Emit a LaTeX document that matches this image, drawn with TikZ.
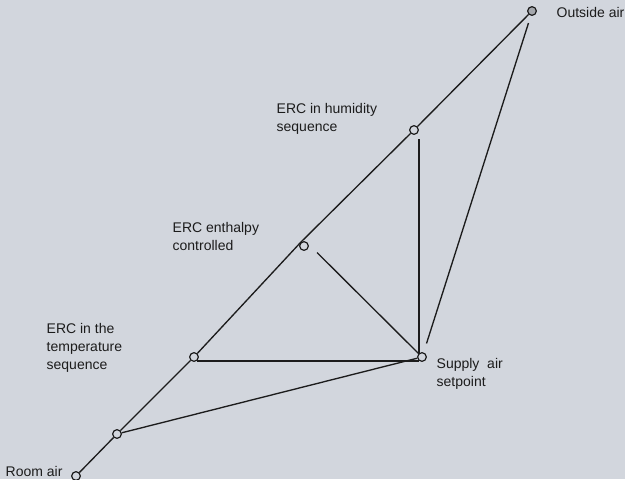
\documentclass[tikz,border=0pt]{standalone}
\usepackage{fontspec}
\setmainfont{Liberation Sans}

\definecolor{bg}{RGB}{210,214,221}
\definecolor{ink}{RGB}{28,28,28}

\begin{document}
\begin{tikzpicture}[x=0.75pt,y=-0.75pt,line width=1pt,color=ink,
                point node/.style={circle,draw=ink,fill=bg,inner sep=0pt,minimum size=6.5pt,line width=0.9pt},
                text node/.style={anchor=north west,inner sep=0pt,align=left,font=\fontsize{10.5}{13.5}\selectfont}]
                \fill[bg] (0,0) rectangle (625,479);
                \useasboundingbox (0,0) rectangle (625,479);

                % state points
                \node[point node] (0) at (76,476) {};
                \node[point node] (1) at (117,434) {};
                \node[point node] (2) at (194,357) {};
                \node[point node] (3) at (304,246) {};
                \node[point node] (4) at (414,130) {};
                \node[point node,fill=bg!78!black] (5) at (532,11) {};
                \node[point node] (6) at (422,357) {};

                % labels
                \node[text node] (l0) at (5,466) {Room air};
                \node[text node] (l2) at (46,323) {ERC in the\\temperature\\sequence};
                \node[text node] (l3) at (172,222) {ERC enthalpy\\controlled};
                \node[text node] (l4) at (276,103) {ERC in humidity\\sequence};
                \node[text node] (l5) at (556,7) {Outside air};
                \node[text node] (l6) at (436,358) {Supply\ \ air\\setpoint};

                % free ends of the lines into the supply point
                \coordinate (3a) at (317,252.5);
                \coordinate (4a) at (419,139);
                \coordinate (5a) at (528.5,23);

                \draw (0) -- (1) -- (2) -- (3.north west) -- (4) -- (5);
                \draw (1) -- (6);
                \draw (2.-55) -- (6.-125);
                \draw (3a) -- (6.north west);
                \draw (4a) -- (4a |- 6.north west);
                \draw[shorten >=7pt] (5a) -- (6.70);
\end{tikzpicture}
\end{document}
